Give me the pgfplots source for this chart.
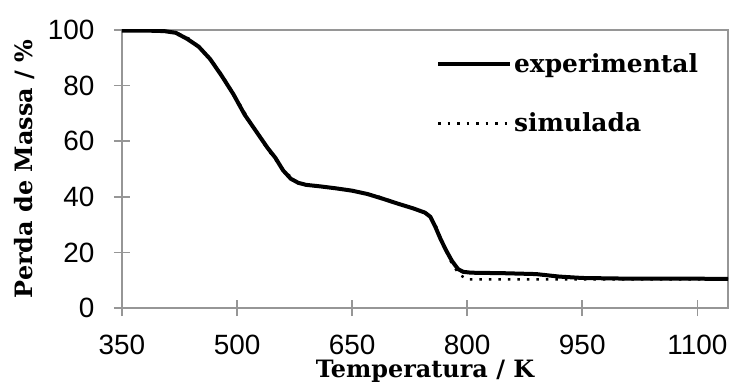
\documentclass[border=0pt]{standalone}
\usepackage{pgfplots}
\pgfplotsset{compat=1.18}
\usepackage{fontspec}
\setmainfont{DejaVu Serif}
\newfontfamily\tickfont{Liberation Sans}
\definecolor{axgray}{RGB}{150,150,150}
\begin{document}
\begin{tikzpicture}
\useasboundingbox (-122bp,-79bp) rectangle (609bp,308bp);
\begin{axis}[
  at={(0,0)}, anchor=south west,
  scale only axis, width=606bp, height=278bp,
  xmin=350, xmax=1140, ymin=0, ymax=100,
  xtick={350,500,650,800,950,1100},
  ytick={0,20,40,60,80,100},
  xtick pos=lower, ytick pos=left,
  tick align=center, major tick length=16bp,
  tick style={axgray, line width=1.6bp},
  axis line style={axgray, line width=1.6bp},
  /pgf/number format/assume math mode=true,
  /pgf/number format/1000 sep={},
  ticklabel style={font=\tickfont\fontsize{28}{31}\selectfont},
  xticklabel style={inner sep=1bp, yshift=-18bp},
  yticklabel style={xshift=-16bp},
  xlabel={\bfseries Temperatura / K},
  ylabel={\bfseries Perda de Massa / \%},
  label style={font=\fontsize{24}{28}\selectfont},
  xlabel style={inner sep=0.5bp, yshift=-3bp},
  ylabel style={yshift=6bp},
  legend style={at={(0.513,0.93)}, anchor=north west, draw=none, fill=none,
    font=\bfseries\fontsize{25}{28}\selectfont, row sep=35bp,
    nodes={inner sep=2bp}},
  legend cell align=left,
  legend image code/.code={\draw[#1] (0bp,0bp) -- (72bp,0bp);},
]
\addplot[black, line width=4bp] coordinates {
(350,99.8) (380,99.8) (405,99.6) (420,99.0) (435,96.8) (450,94.0) (465,89.5)
(480,83.5) (495,77.0) (510,69.5) (525,63.5) (540,57.5) (550,54.0) (560,49.5)
(570,46.5) (580,45.0) (590,44.3) (610,43.7) (630,43.0) (650,42.2) (670,41.0)
(690,39.3) (710,37.5) (730,35.8) (745,34.3) (752,32.8) (758,29.5) (765,25.0)
(772,21.0) (780,17.0) (788,14.0) (795,13.0) (805,12.7) (850,12.5) (890,12.2)
(920,11.3) (950,10.8) (1000,10.6) (1140,10.5)
};
\addlegendentry{experimental}
\addplot[black, line width=2.5bp, dash pattern=on 2.5bp off 7bp] coordinates {
(350,100) (400,100) (420,99.2) (440,96.5) (460,91.5) (480,84) (500,75)
(520,65.5) (540,57) (560,49.8) (575,45.8) (590,44.2) (620,43.3) (650,42.2)
(680,40.5) (710,37.6) (740,35) (752,33) (760,29) (770,22) (780,16) (790,12)
(800,10.3) (850,10.3) (1140,10.3)
};
\addlegendentry{simulada}
\end{axis}
\end{tikzpicture}
\end{document}
